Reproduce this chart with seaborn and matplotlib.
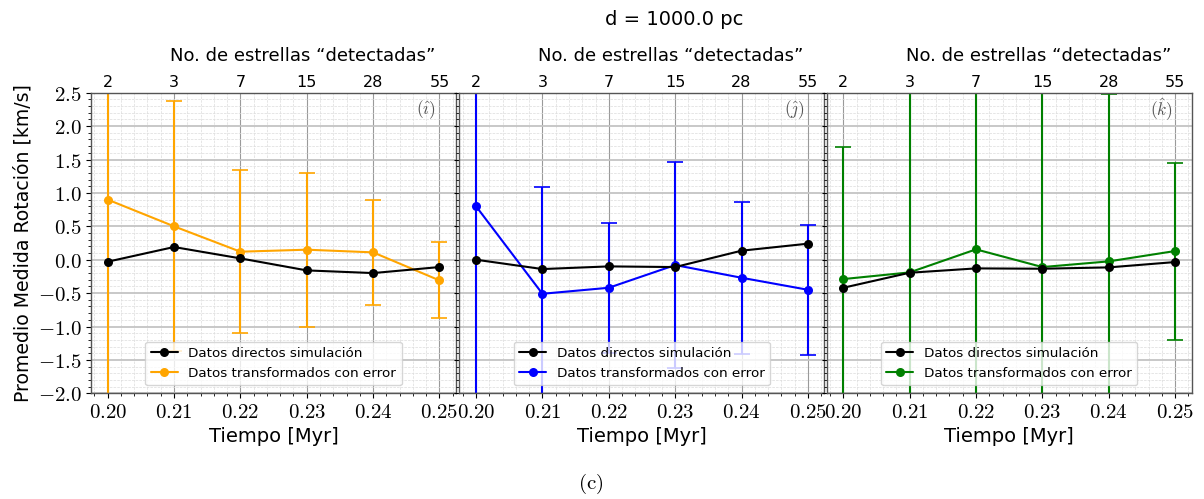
import numpy as np
import pandas as pd
import matplotlib
matplotlib.use("Agg")
import matplotlib.pyplot as plt
import seaborn as sns
from matplotlib.ticker import MultipleLocator, FuncFormatter

# Datos
tiempo = [0.20, 0.21, 0.22, 0.23, 0.24, 0.25]
n_estrellas = ['2', '3', '7', '15', '28', '55']

directos_i = [-0.03, 0.19, 0.02, -0.16, -0.20, -0.11]
transf_i = [0.90, 0.50, 0.12, 0.15, 0.11, -0.31]
err_i = [3.2, 1.87, 1.22, 1.15, 0.79, 0.57]

directos_j = [0.00, -0.14, -0.10, -0.11, 0.135, 0.24]
transf_j = [0.80, -0.51, -0.42, -0.08, -0.27, -0.45]
err_j = [3.0, 1.60, 0.975, 1.54, 1.14, 0.97]

directos_k = [-0.42, -0.195, -0.13, -0.135, -0.115, -0.035]
transf_k = [-0.29, -0.19, 0.155, -0.11, -0.025, 0.13]
err_k = [1.975, 3.1, 3.5, 2.9, 2.505, 1.325]

paneles = [
    (directos_i, transf_i, err_i, 'orange', r'$(\hat{\imath})$'),
    (directos_j, transf_j, err_j, 'blue', r'$(\hat{\jmath})$'),
    (directos_k, transf_k, err_k, 'green', r'$(\hat{k})$'),
]

sns.set_theme(style="ticks")
plt.rcParams['font.family'] = ['DejaVu Sans']
plt.rcParams['mathtext.fontset'] = 'cm'
for k in ['text.color', 'axes.labelcolor', 'xtick.color', 'ytick.color']:
    plt.rcParams[k] = 'black'

fig = plt.figure(figsize=(12.04, 4.99), dpi=100)
lefts = [0.0756, 0.3816, 0.6866]
width, bottom, height = 0.3032, 0.2118, 0.6024

fmt_x = FuncFormatter(lambda v, p: r'$%.2f$' % v)
fmt_y = FuncFormatter(lambda v, p: r'$%.1f$' % v)

for n, (directos, transf, err, color, etiqueta) in enumerate(paneles):
    ax = fig.add_axes([lefts[n], bottom, width, height])
    df = pd.DataFrame({'t': tiempo, 'directos': directos, 'transf': transf})

    ax.errorbar(tiempo, transf, yerr=err, fmt='none', ecolor=color,
                elinewidth=1.5, capsize=6, capthick=1.2, zorder=2)
    sns.lineplot(data=df, x='t', y='transf', color=color, marker='o',
                 markersize=6.5, markeredgewidth=0, linewidth=1.5,
                 label='Datos transformados con error', ax=ax, zorder=2)
    sns.lineplot(data=df, x='t', y='directos', color='black', marker='o',
                 markersize=6.5, markeredgewidth=0, linewidth=1.5,
                 label='Datos directos simulación', ax=ax, zorder=3)

    ax.set_xlim(0.1975, 0.2525)
    ax.set_ylim(-2.0, 2.5)
    ax.xaxis.set_major_locator(MultipleLocator(0.01))
    ax.xaxis.set_minor_locator(MultipleLocator(0.002))
    ax.yaxis.set_major_locator(MultipleLocator(0.5))
    ax.yaxis.set_minor_locator(MultipleLocator(0.1))
    ax.xaxis.set_major_formatter(fmt_x)
    ax.yaxis.set_major_formatter(fmt_y)
    ax.tick_params(which='major', direction='out', length=3.5, width=0.8,
                   labelsize=15, pad=3)
    ax.tick_params(which='minor', direction='out', length=2, width=0.6)
    if n > 0:
        ax.tick_params(axis='y', labelleft=False)

    ax.grid(which='minor', color='#dcdcdc', linewidth=0.5, linestyle='--')
    ax.grid(which='major', axis='y', color='#c4c4c4', linewidth=1.3)
    ax.grid(which='major', axis='x', color='#9a9a9a', linewidth=0.8)
    ax.set_axisbelow(True)
    for s in ax.spines.values():
        s.set_color('#555555')
        s.set_linewidth(1.0)

    ax.set_xlabel('Tiempo [Myr]', fontsize=14, labelpad=3)
    if n == 0:
        ax.set_ylabel('Promedio Medida Rotación [km/s]', fontsize=13.6, labelpad=4)
    else:
        ax.set_ylabel('')

    handles, labels = ax.get_legend_handles_labels()
    ax.legend(handles[::-1], labels[::-1], loc='lower center', fontsize=9.7,
              borderaxespad=0.6, framealpha=0.8)

    ax.text(0.918, 0.945, etiqueta, transform=ax.transAxes, ha='center',
            va='center', fontsize=12.5, color='#555555')

    top = ax.twiny()
    top.set_xlim(ax.get_xlim())
    top.set_xticks(tiempo)
    top.set_xticklabels(n_estrellas)
    top.tick_params(axis='x', length=0, pad=2, labelsize=11.5)
    top.set_xlabel('No. de estrellas “detectadas”', fontsize=13, labelpad=6)
    top.xaxis.set_label_coords(0.58, 1.105)
    top.grid(False)
    for s in top.spines.values():
        s.set_visible(False)

fig.text(0.56, 0.96, 'd = 1000.0 pc', ha='center', va='center', fontsize=14)
fig.text(0.491, 0.03, r'$\mathrm{(c)}$', ha='center', va='center', fontsize=15)

fig.savefig('out.png', dpi=100)
